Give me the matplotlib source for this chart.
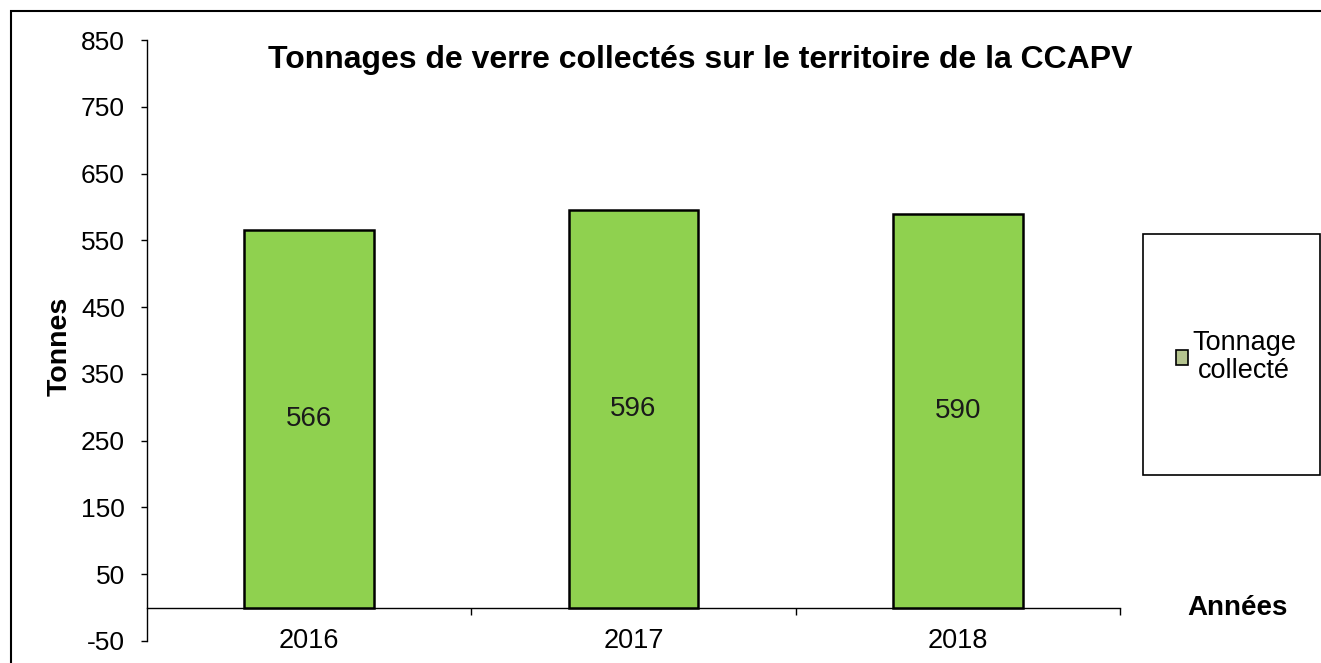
import numpy as np
import matplotlib.pyplot as plt
from matplotlib.patches import Rectangle, Patch

plt.rcParams['font.family'] = ['Liberation Sans', 'DejaVu Sans']
plt.rcParams['axes.unicode_minus'] = False

# data
years = ['2016', '2017', '2018']
tonnage = [566, 596, 590]
yticks = [-50, 50, 150, 250, 350, 450, 550, 650, 750, 850]

W, H = 1321, 663
fig = plt.figure(figsize=(W / 100, H / 100), dpi=100)

# outer frame of the picture (cut off on the right and at the bottom)
fig.patches.append(Rectangle((11 / W, -0.5), 2, 1.5 - 11 / H, transform=fig.transFigure,
                             fill=False, edgecolor='black', linewidth=1.5, clip_on=False))

ax = fig.add_axes([147 / W, 1 - 641 / H, (1120 - 147) / W, (641 - 40) / H])
ax.set_facecolor('none')

x = np.arange(len(years)) + 0.5
bars = ax.bar(x, tonnage, width=0.4, color='#8fd14f', edgecolor='black', linewidth=1.8, zorder=3)
for xi, v in zip(x, tonnage):
    ax.text(xi, v / 2, str(v), ha='center', va='center', fontsize=20, color='#1a1a1a', zorder=4)

ax.set_xlim(0, len(years))
ax.set_ylim(-50, 850)
ax.set_yticks(yticks)
ax.tick_params(axis='y', direction='out', length=4, width=1, pad=12, labelsize=19)

ax.spines['top'].set_visible(False)
ax.spines['right'].set_visible(False)
ax.spines['bottom'].set_position(('data', 0))
ax.spines['left'].set_linewidth(1)
ax.spines['bottom'].set_linewidth(1)

ax.set_xticks(x)
ax.set_xticklabels(years)
ax.set_xticks(np.arange(1, len(years) + 1), minor=True)
ax.tick_params(axis='x', which='major', length=0, pad=15, labelsize=19.5)
ax.tick_params(axis='x', which='minor', direction='out', length=5, width=1)

ax.set_ylabel('Tonnes', fontsize=20.5, fontweight='bold')
ax.yaxis.set_label_coords(-0.076, 0.49)

fig.text(700 / W, 1 - 60 / H, 'Tonnages de verre collectés sur le territoire de la CCAPV',
         ha='center', va='center', fontsize=23, fontweight='bold')
fig.text(1238 / W, 1 - 608 / H, 'Années', ha='center', va='center', fontsize=20, fontweight='bold')

# legend box
fig.patches.append(Rectangle((1143 / W, 1 - 475 / H), (1320 - 1143) / W, (475 - 234) / H,
                             transform=fig.transFigure, fill=False, edgecolor='black', linewidth=1.2))
handle = Patch(facecolor='#b5c48f', edgecolor='black', linewidth=1.2)
leg = fig.legend([handle], ['Tonnage\ncollecté'], loc='center', bbox_to_anchor=(1236 / W, 1 - 357 / H),
                 frameon=False, fontsize=19.5, handlelength=0.45, handleheight=0.45, handletextpad=0.15)
for t in leg.get_texts():
    t.set_multialignment('center')
    t.set_linespacing(1.15)

fig.savefig('out.png', dpi=100)
